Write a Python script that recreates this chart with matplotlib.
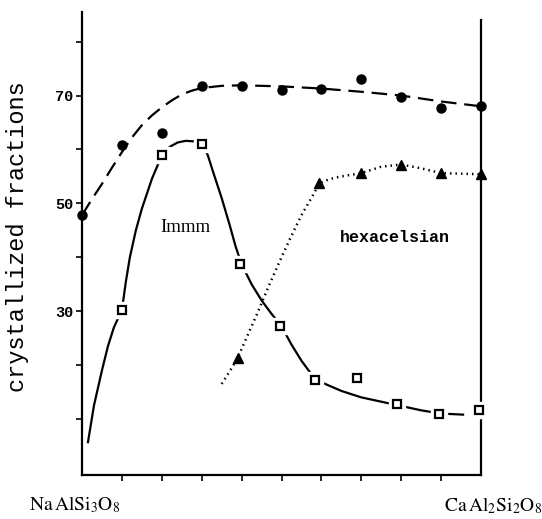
import matplotlib
matplotlib.use("Agg")
import matplotlib.pyplot as plt

# measured points (composition % anorthite, crystallized fraction)
circ_x = [0, 10, 20, 30, 40, 50, 60, 70, 80, 90, 100]
circ_y = [47.8, 60.9, 63.1, 71.7, 71.7, 71.0, 71.3, 73.0, 69.8, 67.6, 68.0]

sq_x = [10, 20, 30, 39.5, 49.5, 58.5, 69, 79, 89.5, 99.5]
sq_y = [30.2, 58.9, 61.1, 38.7, 27.2, 17.2, 17.6, 12.8, 11.0, 11.7]

tri_x = [39, 59.5, 70, 80, 90, 100]
tri_y = [21.3, 53.7, 55.6, 57.2, 55.6, 55.4]

# hand drawn trend curves
circ_fit_x = [0, 2.5, 5, 7.5, 10, 12.5, 15, 17.5, 20, 22.5, 25, 27.5, 30, 35, 40,
              50, 60, 70, 80, 90, 100]
circ_fit_y = [47.8, 50.8, 53.6, 56.6, 59.5, 62.2, 64.5, 66.3, 67.8, 69.1, 70.2, 70.9, 71.4, 71.8, 71.9,
              71.7, 71.3, 70.7, 70.0, 68.9, 68.0]

sq_fit_x = [1.5, 3, 5, 6.5, 8, 10, 11, 12, 13.5, 15, 17.5, 20, 22, 24, 26, 28, 30,
            31.5, 33, 35, 37, 38.5, 40, 42.5, 45, 47.5, 50, 52.5, 55, 57.5, 60,
            65, 70, 75, 80, 85, 90, 95.5]
sq_fit_y = [5.7, 12.5, 19.0, 23.5, 27.0, 30.2, 35.5, 40.0, 45.0, 49.0, 54.5, 58.9, 60.5, 61.3, 61.6, 61.5, 61.1,
            59.0, 55.5, 51.0, 46.0, 42.0, 38.7, 35.0, 32.0, 29.5, 27.2, 23.8, 20.8, 18.3, 16.8,
            15.2, 14.0, 13.2, 12.4, 11.6, 11.0, 10.8]

tri_fit_x = [35, 37, 39, 41.5, 44, 47, 50, 52.5, 55, 57.5, 59.5, 62, 65, 70, 75, 80, 85, 90, 95, 100]
tri_fit_y = [16.5, 18.8, 21.3, 25.5, 29.7, 35.0, 40.0, 44.0, 47.8, 51.0, 53.7, 54.5, 55.0, 55.6, 56.8,
             57.2, 56.5, 55.6, 55.5, 55.4]

y_ticks = [10, 20, 30, 40, 50, 60, 70, 80]
y_labels = ["", "", "30", "", "50", "", "70", ""]
x_ticks = [10, 20, 30, 40, 50, 60, 70, 80, 90]

plt.rcParams["mathtext.fontset"] = "stix"

fig = plt.figure(figsize=(5.42, 5.19), dpi=100)
ax = fig.add_axes([82/542, 1 - 475/519, (481 - 82)/542, (475 - 12)/519])

ax.plot(circ_fit_x, circ_fit_y, color="black", lw=1.6, dashes=(7, 3.5), clip_on=False)
ax.plot(sq_fit_x, sq_fit_y, color="black", lw=1.6, clip_on=False)
ax.plot(tri_fit_x, tri_fit_y, color="black", lw=1.8, ls=(0, (0.6, 1.6)), clip_on=False)

ax.plot(circ_x, circ_y, "o", color="black", ms=6.5, clip_on=False, zorder=5)
# white halo so the solid line stops short of the squares
ax.plot(sq_x, sq_y, "s", color="white", ms=12, clip_on=False, zorder=4)
ax.plot(sq_x, sq_y, "s", mfc="white", mec="black", mew=1.6, ms=5.5, clip_on=False, zorder=5)
ax.plot(tri_x, tri_y, "^", color="black", ms=6.5, clip_on=False, zorder=5)

ax.set_xlim(0, 100)
ax.set_ylim(-0.4, 85.5)
ax.spines["top"].set_visible(False)
ax.spines["right"].set_bounds(-0.4, 84)
for s in ["left", "right", "bottom"]:
    ax.spines[s].set_linewidth(1.6)

ax.set_yticks(y_ticks)
ax.set_yticklabels(y_labels, family="Liberation Mono", fontweight="bold", fontsize=11)
ax.set_xticks(x_ticks)
ax.set_xticklabels([])
ax.tick_params(axis="both", direction="out", length=4, width=1.2, pad=2)

ax.text(25.8, 45.6, "Immm", family="Liberation Serif", fontsize=13.5, ha="center", va="center")
ax.text(78.5, 43.7, "hexacelsian", family="Liberation Mono", fontweight="bold", fontsize=12,
        ha="center", va="center")

fig.text(18/542, 1 - 237/519, "crystallized fractions", family="Liberation Mono", fontsize=17,
         rotation=90, ha="center", va="center")
fig.text(75/542, 1 - 505/519, r"$\mathrm{Na\,AlSi_3O_8}$", fontsize=14, ha="center", va="center")
fig.text(493/542, 1 - 506/519, r"$\mathrm{Ca\,Al_2Si_2O_8}$", fontsize=14, ha="center", va="center")

fig.savefig("out.png", dpi=100)
